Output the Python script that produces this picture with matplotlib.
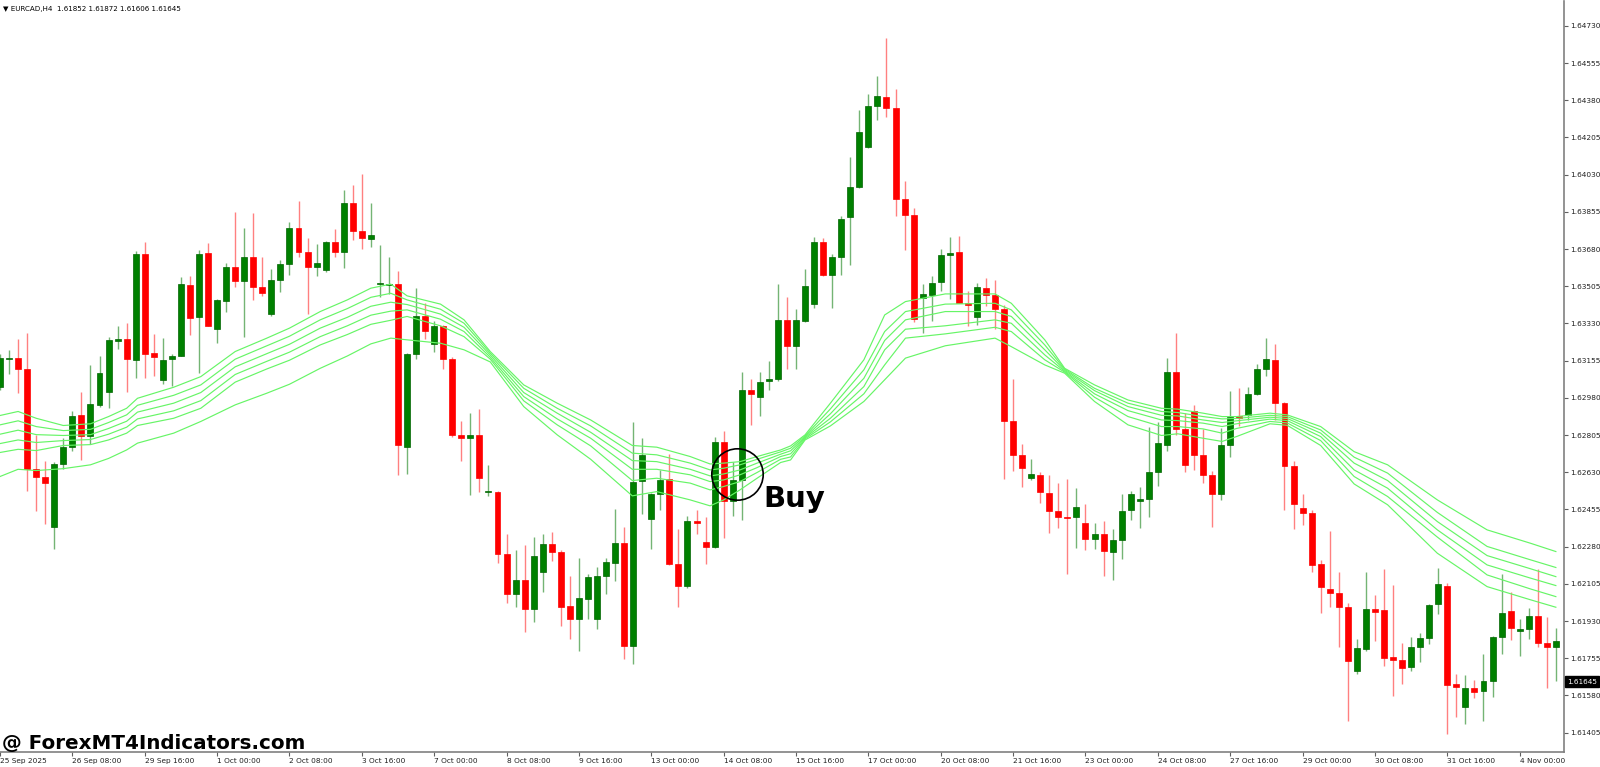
import numpy as np
import matplotlib
matplotlib.use("Agg")
import matplotlib.pyplot as plt
import matplotlib.transforms as mtransforms

header = "\u25bc EURCAD,H4  1.61852 1.61872 1.61606 1.61645"
watermark = "@ ForexMT4Indicators.com"
last_price = 1.61645

# H4 candles, 25 Sep 2025 00:00 .. 4 Nov 2025
opens = [
    1.63031, 1.63161, 1.63168, 1.63118, 1.62647, 1.62608, 1.62372, 1.62668, 1.62750, 1.62900,
    1.62800, 1.62946, 1.63008, 1.63246, 1.63257, 1.63159, 1.63657, 1.63191, 1.63065, 1.63161,
    1.63179, 1.63512, 1.63359, 1.63661, 1.63305, 1.63434, 1.63597, 1.63531, 1.63645, 1.63503,
    1.63375, 1.63533, 1.63611, 1.63780, 1.63668, 1.63597, 1.63581, 1.63714, 1.63664, 1.63895,
    1.63764, 1.63728, 1.63517, 1.63510, 1.63515, 1.62750, 1.63186, 1.63364, 1.63232, 1.63317,
    1.63161, 1.62805, 1.62791, 1.62807, 1.62535, 1.62539, 1.62244, 1.62058, 1.62124, 1.61985,
    1.62159, 1.62292, 1.62255, 1.62001, 1.61941, 1.62035, 1.61941, 1.62143, 1.62205, 1.62297,
    1.61815, 1.62588, 1.62411, 1.62528, 1.62599, 1.62200, 1.62097, 1.62402, 1.62303, 1.62278,
    1.62773, 1.62494, 1.62595, 1.63015, 1.62985, 1.63058, 1.63067, 1.63347, 1.63225, 1.63343,
    1.63421, 1.63714, 1.63558, 1.63645, 1.63829, 1.63973, 1.64161, 1.64352, 1.64395, 1.64345,
    1.63916, 1.63840, 1.63448, 1.63466, 1.63524, 1.63654, 1.63666, 1.63425, 1.63359, 1.63498,
    1.63462, 1.63398, 1.62869, 1.62711, 1.62604, 1.62617, 1.62532, 1.62448, 1.62420, 1.62418,
    1.62393, 1.62315, 1.62338, 1.62255, 1.62310, 1.62452, 1.62496, 1.62503, 1.62629, 1.62757,
    1.63102, 1.62833, 1.62920, 1.62711, 1.62615, 1.62526, 1.62759, 1.62893, 1.62900, 1.62998,
    1.63118, 1.63159, 1.62957, 1.62658, 1.62464, 1.62436, 1.62200, 1.62083, 1.62062, 1.61998,
    1.61695, 1.61799, 1.61985, 1.61982, 1.61759, 1.61747, 1.61712, 1.61810, 1.61849, 1.62010,
    1.62096, 1.61634, 1.61527, 1.61614, 1.61603, 1.61646, 1.61857, 1.61976, 1.61885, 1.61893,
    1.61954, 1.61825, 1.61806,
]
highs = [
    1.63186, 1.63205, 1.63255, 1.63287, 1.62807, 1.62681, 1.62677, 1.62791, 1.62916, 1.63008,
    1.63134, 1.63179, 1.63264, 1.63317, 1.63333, 1.63673, 1.63712, 1.63280, 1.63260, 1.63186,
    1.63549, 1.63554, 1.63675, 1.63709, 1.63444, 1.63613, 1.63856, 1.63778, 1.63851, 1.63645,
    1.63588, 1.63629, 1.63805, 1.63904, 1.63730, 1.63702, 1.63716, 1.63773, 1.63959, 1.63982,
    1.64035, 1.63897, 1.63700, 1.63641, 1.63577, 1.63191, 1.63496, 1.63425, 1.63343, 1.63324,
    1.63170, 1.62869, 1.62911, 1.62927, 1.62663, 1.62544, 1.62338, 1.62262, 1.62287, 1.62326,
    1.62338, 1.62349, 1.62262, 1.62143, 1.62228, 1.62150, 1.62182, 1.62228, 1.62457, 1.62372,
    1.62865, 1.62791, 1.62532, 1.62640, 1.62716, 1.62361, 1.62425, 1.62452, 1.62418, 1.62796,
    1.62823, 1.62677, 1.63104, 1.63070, 1.63102, 1.63154, 1.63515, 1.63453, 1.63398, 1.63584,
    1.63737, 1.63732, 1.63657, 1.63836, 1.64111, 1.64333, 1.64409, 1.64494, 1.64671, 1.64434,
    1.63998, 1.63874, 1.63515, 1.63554, 1.63680, 1.63737, 1.63741, 1.63485, 1.63519, 1.63542,
    1.63535, 1.63416, 1.63067, 1.62762, 1.62691, 1.62631, 1.62617, 1.62578, 1.62597, 1.62555,
    1.62480, 1.62393, 1.62400, 1.62361, 1.62526, 1.62544, 1.62562, 1.62842, 1.62865, 1.63168,
    1.63285, 1.62907, 1.62948, 1.62833, 1.62635, 1.62837, 1.63012, 1.63026, 1.63031, 1.63141,
    1.63262, 1.63234, 1.62961, 1.62681, 1.62526, 1.62452, 1.62216, 1.62354, 1.62161, 1.62017,
    1.61845, 1.62159, 1.62051, 1.62173, 1.62100, 1.61825, 1.61853, 1.61872, 1.62010, 1.62181,
    1.62107, 1.61681, 1.61675, 1.61653, 1.61773, 1.61861, 1.62151, 1.62068, 1.61940, 1.61993,
    1.62173, 1.61948, 1.61896,
]
lows = [
    1.63015, 1.63090, 1.63003, 1.62544, 1.62446, 1.62388, 1.62269, 1.62647, 1.62732, 1.62686,
    1.62762, 1.62939, 1.62934, 1.63209, 1.63008, 1.63072, 1.63072, 1.63083, 1.63044, 1.63037,
    1.63177, 1.63278, 1.63095, 1.63316, 1.63239, 1.63386, 1.63501, 1.63264, 1.63439, 1.63457,
    1.63364, 1.63480, 1.63558, 1.63645, 1.63375, 1.63554, 1.63572, 1.63645, 1.63593, 1.63725,
    1.63680, 1.63691, 1.63453, 1.63469, 1.62617, 1.62624, 1.63163, 1.63255, 1.63195, 1.63118,
    1.62796, 1.62681, 1.62521, 1.62539, 1.62516, 1.62205, 1.62017, 1.61994, 1.61879, 1.61925,
    1.62067, 1.62212, 1.61909, 1.61845, 1.61787, 1.61941, 1.61891, 1.62058, 1.62120, 1.61753,
    1.61730, 1.62434, 1.62269, 1.62452, 1.62194, 1.61998, 1.62085, 1.62338, 1.62200, 1.62276,
    1.62319, 1.62425, 1.62406, 1.62853, 1.62895, 1.63015, 1.63061, 1.63118, 1.63118, 1.63336,
    1.63405, 1.63554, 1.63405, 1.63558, 1.63606, 1.63966, 1.64154, 1.64288, 1.64302, 1.63835,
    1.63677, 1.63336, 1.63287, 1.63343, 1.63485, 1.63446, 1.63425, 1.63320, 1.63324, 1.63411,
    1.63306, 1.62597, 1.62635, 1.62560, 1.62595, 1.62487, 1.62342, 1.62370, 1.62150, 1.62276,
    1.62265, 1.62269, 1.62143, 1.62124, 1.62223, 1.62406, 1.62368, 1.62418, 1.62567, 1.62732,
    1.62807, 1.62631, 1.62640, 1.62578, 1.62372, 1.62498, 1.62704, 1.62846, 1.62877, 1.62992,
    1.63083, 1.62877, 1.62452, 1.62361, 1.62384, 1.62159, 1.61966, 1.61994, 1.61806, 1.61462,
    1.61679, 1.61787, 1.61838, 1.61720, 1.61577, 1.61634, 1.61697, 1.61739, 1.61821, 1.61963,
    1.61397, 1.61480, 1.61444, 1.61566, 1.61460, 1.61574, 1.61773, 1.61841, 1.61766, 1.61846,
    1.61806, 1.61614, 1.61650,
]
closes = [
    1.63168, 1.63166, 1.63118, 1.62647, 1.62606, 1.62578, 1.62670, 1.62750, 1.62895, 1.62800,
    1.62950, 1.63095, 1.63250, 1.63257, 1.63161, 1.63657, 1.63186, 1.63170, 1.63156, 1.63179,
    1.63515, 1.63357, 1.63657, 1.63320, 1.63439, 1.63597, 1.63528, 1.63643, 1.63501, 1.63471,
    1.63535, 1.63611, 1.63780, 1.63668, 1.63597, 1.63613, 1.63712, 1.63668, 1.63895, 1.63764,
    1.63730, 1.63748, 1.63519, 1.63515, 1.62757, 1.63186, 1.63364, 1.63294, 1.63320, 1.63161,
    1.62803, 1.62789, 1.62807, 1.62601, 1.62542, 1.62246, 1.62058, 1.62124, 1.61985, 1.62235,
    1.62292, 1.62255, 1.61998, 1.61941, 1.62039, 1.62136, 1.62143, 1.62207, 1.62297, 1.61815,
    1.62583, 1.62709, 1.62528, 1.62595, 1.62200, 1.62097, 1.62402, 1.62391, 1.62278, 1.62773,
    1.62494, 1.62595, 1.63019, 1.62998, 1.63056, 1.63070, 1.63347, 1.63225, 1.63347, 1.63508,
    1.63714, 1.63558, 1.63645, 1.63822, 1.63973, 1.64232, 1.64352, 1.64398, 1.64345, 1.63916,
    1.63840, 1.63352, 1.63469, 1.63521, 1.63654, 1.63661, 1.63428, 1.63416, 1.63501, 1.63466,
    1.63398, 1.62869, 1.62711, 1.62651, 1.62620, 1.62537, 1.62448, 1.62418, 1.62416, 1.62468,
    1.62315, 1.62338, 1.62258, 1.62310, 1.62448, 1.62530, 1.62503, 1.62629, 1.62766, 1.63102,
    1.62833, 1.62665, 1.62711, 1.62617, 1.62526, 1.62759, 1.62888, 1.62886, 1.62996, 1.63118,
    1.63163, 1.62957, 1.62658, 1.62482, 1.62438, 1.62196, 1.62088, 1.62062, 1.61998, 1.61741,
    1.61803, 1.61989, 1.61973, 1.61755, 1.61747, 1.61708, 1.61810, 1.61850, 1.62004, 1.62104,
    1.61628, 1.61621, 1.61614, 1.61598, 1.61646, 1.61857, 1.61969, 1.61899, 1.61893, 1.61955,
    1.61825, 1.61806, 1.61835,
]

date_labels = ["25 Sep 2025", "26 Sep 08:00", "29 Sep 16:00", "1 Oct 00:00", "2 Oct 08:00",
               "3 Oct 16:00", "7 Oct 00:00", "8 Oct 08:00", "9 Oct 16:00", "13 Oct 00:00",
               "14 Oct 08:00", "15 Oct 16:00", "17 Oct 00:00", "20 Oct 08:00", "21 Oct 16:00",
               "23 Oct 00:00", "24 Oct 08:00", "27 Oct 16:00", "29 Oct 00:00", "30 Oct 08:00",
               "31 Oct 16:00", "4 Nov 00:00"]
bars_per_label = 8

price_ticks = [1.64730, 1.64555, 1.64380, 1.64205, 1.64030, 1.63855, 1.63680, 1.63505,
               1.63330, 1.63155, 1.62980, 1.62805, 1.62630, 1.62455, 1.62280, 1.62105,
               1.61930, 1.61755, 1.61580, 1.61405]

# moving average ribbon (top line to bottom line)
ma_x = [0, 2, 4, 7, 10, 12, 14, 15.2, 19.2, 22.2, 26, 29.5, 32, 35.4, 38.4, 41, 43.2, 45,
        48.7, 51.3, 54.2, 57.9, 61.6, 65.3, 69.9, 72.6, 76.3, 78.5, 80, 81.8, 83.7, 86.3,
        87.4, 89, 91.8, 95.5, 97.8, 100.1, 104.5, 110, 111.8, 115.5, 117.7, 121, 124.7,
        128.4, 130.2, 133, 135.1, 136.7, 140.4, 142.3, 146, 149.7, 153.4, 158.9, 164.4,
        169.2, 172]
ma1 = [1.62897, 1.62916, 1.62884, 1.62850, 1.62858, 1.62892, 1.62931, 1.62978, 1.63030, 1.63080,
       1.63198, 1.63261, 1.63308, 1.63386, 1.63441, 1.63496, 1.63515, 1.63460, 1.63421, 1.63347,
       1.63198, 1.63041, 1.62955, 1.62876, 1.62756, 1.62748, 1.62704, 1.62669, 1.62673, 1.62680,
       1.62704, 1.62735, 1.62754, 1.62806, 1.62955, 1.63159, 1.63370, 1.63433, 1.63469, 1.63469,
       1.63425, 1.63253, 1.63119, 1.63041, 1.62970, 1.62931, 1.62927, 1.62908, 1.62892, 1.62892,
       1.62908, 1.62900, 1.62845, 1.62727, 1.62665, 1.62500, 1.62359, 1.62296, 1.62257]
ma2 = [1.62853, 1.62872, 1.62845, 1.62826, 1.62832, 1.62864, 1.62900, 1.62945, 1.62992, 1.63041,
       1.63162, 1.63225, 1.63270, 1.63347, 1.63400, 1.63453, 1.63472, 1.63441, 1.63397, 1.63331,
       1.63190, 1.63025, 1.62931, 1.62848, 1.62720, 1.62712, 1.62673, 1.62641, 1.62649, 1.62665,
       1.62691, 1.62726, 1.62743, 1.62801, 1.62928, 1.63112, 1.63292, 1.63386, 1.63421, 1.63425,
       1.63394, 1.63229, 1.63115, 1.63025, 1.62955, 1.62916, 1.62911, 1.62892, 1.62881, 1.62883,
       1.62898, 1.62892, 1.62829, 1.62701, 1.62626, 1.62441, 1.62281, 1.62218, 1.62182]
ma3 = [1.62809, 1.62828, 1.62807, 1.62803, 1.62807, 1.62836, 1.62870, 1.62913, 1.62955, 1.63005,
       1.63126, 1.63188, 1.63232, 1.63308, 1.63359, 1.63411, 1.63430, 1.63419, 1.63374, 1.63312,
       1.63181, 1.63005, 1.62908, 1.62818, 1.62685, 1.62680, 1.62644, 1.62613, 1.62622, 1.62641,
       1.62673, 1.62715, 1.62731, 1.62796, 1.62905, 1.63072, 1.63250, 1.63347, 1.63386, 1.63386,
       1.63363, 1.63206, 1.63110, 1.63014, 1.62939, 1.62898, 1.62895, 1.62876, 1.62864, 1.62872,
       1.62889, 1.62883, 1.62814, 1.62673, 1.62591, 1.62398, 1.62238, 1.62176, 1.62139]
ma4 = [1.62765, 1.62782, 1.62770, 1.62779, 1.62784, 1.62809, 1.62842, 1.62881, 1.62919, 1.62967,
       1.63090, 1.63152, 1.63195, 1.63268, 1.63319, 1.63369, 1.63388, 1.63394, 1.63350, 1.63292,
       1.63171, 1.62986, 1.62881, 1.62790, 1.62644, 1.62644, 1.62618, 1.62586, 1.62594, 1.62618,
       1.62652, 1.62704, 1.62717, 1.62792, 1.62884, 1.63033, 1.63206, 1.63303, 1.63319, 1.63347,
       1.63331, 1.63182, 1.63105, 1.62999, 1.62920, 1.62876, 1.62873, 1.62861, 1.62845, 1.62858,
       1.62880, 1.62873, 1.62798, 1.62641, 1.62555, 1.62359, 1.62194, 1.62132, 1.62097]
ma5 = [1.62723, 1.62738, 1.62732, 1.62756, 1.62760, 1.62782, 1.62814, 1.62850, 1.62884, 1.62931,
       1.63054, 1.63116, 1.63157, 1.63229, 1.63278, 1.63326, 1.63345, 1.63363, 1.63319, 1.63268,
       1.63162, 1.62966, 1.62853, 1.62754, 1.62591, 1.62602, 1.62579, 1.62547, 1.62563, 1.62586,
       1.62629, 1.62691, 1.62702, 1.62787, 1.62867, 1.62999, 1.63135, 1.63261, 1.63281, 1.63312,
       1.63292, 1.63159, 1.63101, 1.62983, 1.62892, 1.62845, 1.62845, 1.62834, 1.62814, 1.62836,
       1.62869, 1.62862, 1.62779, 1.62610, 1.62516, 1.62325, 1.62147, 1.62081, 1.62045]
ma6 = [1.62610, 1.62644, 1.62638, 1.62647, 1.62665, 1.62695, 1.62735, 1.62767, 1.62814, 1.62869,
       1.62947, 1.63002, 1.63044, 1.63119, 1.63177, 1.63234, 1.63261, 1.63253, 1.63237, 1.63206,
       1.63149, 1.62939, 1.62806, 1.62691, 1.62519, 1.62539, 1.62500, 1.62472, 1.62500, 1.62547,
       1.62602, 1.62676, 1.62688, 1.62782, 1.62848, 1.62963, 1.63065, 1.63167, 1.63225, 1.63261,
       1.63221, 1.63135, 1.63096, 1.62963, 1.62853, 1.62803, 1.62811, 1.62790, 1.62775, 1.62798,
       1.62858, 1.62851, 1.62756, 1.62575, 1.62477, 1.62249, 1.62092, 1.62030, 1.61995]

buy_bar = 81.5
buy_price = 1.62622

o = np.array(opens)
h = np.array(highs)
l = np.array(lows)
c = np.array(closes)
x = np.arange(len(o))
up = c >= o

fig = plt.figure(figsize=(16, 7.67), dpi=100)
ax = fig.add_axes([0, 15 / 767, 1564 / 1600, 751 / 767])

green, red = "#008000", "#ff0000"
ax.vlines(x[up], l[up], h[up], colors="#74b474", lw=1.0, zorder=1)
ax.vlines(x[~up], l[~up], h[~up], colors="#ff8080", lw=1.0, zorder=1)
body = np.maximum(np.abs(c - o), 0.00005)
ax.bar(x[up], body[up], bottom=np.minimum(o, c)[up], width=0.66,
       color=green, edgecolor="#006400", lw=0.5, zorder=2)
ax.bar(x[~up], body[~up], bottom=np.minimum(o, c)[~up], width=0.66,
       color=red, edgecolor=red, lw=0.5, zorder=2)

for ma in (ma1, ma2, ma3, ma4, ma5, ma6):
    ax.plot(ma_x, ma, color="#66f566", lw=0.85, zorder=3)

# buy signal
ax.plot([buy_bar], [buy_price], marker="o", ms=37, mfc="none", mec="black",
        mew=1.2, zorder=4)
ax.annotate("Buy", xy=(buy_bar, buy_price), xytext=(19, -24), textcoords="offset points",
            fontsize=21, fontweight="bold", ha="left", va="baseline", zorder=5)

ax.set_xlim(0.077, 172.9)
ax.set_ylim(1.61314, 1.64847)

for side in ("top", "left"):
    ax.spines[side].set_visible(False)
for side in ("right", "bottom"):
    ax.spines[side].set_color("#808080")
    ax.spines[side].set_linewidth(1.2)

ax.yaxis.tick_right()
ax.set_yticks(price_ticks)
ax.set_yticklabels([f"{p:.5f}" for p in price_ticks])
ax.set_xticks(np.arange(len(date_labels)) * bars_per_label)
ax.set_xticklabels(date_labels, ha="left")
ax.tick_params(axis="both", direction="out", length=3, width=0.8, color="#606060",
               labelsize=5.3, labelcolor="#202020", pad=1.5)

ax.text(1.002, last_price, f"{last_price:.5f}",
        transform=mtransforms.blended_transform_factory(ax.transAxes, ax.transData),
        fontsize=5.2, color="white", ha="left", va="center",
        bbox=dict(boxstyle="square,pad=0.3", fc="black", ec="black"), zorder=6)

fig.text(3 / 1600, 1 - 8.5 / 767, header, fontsize=5.1, color="black", va="center", ha="left")
fig.text(2 / 1600, 1 - 749 / 767, watermark, fontsize=14.3, fontweight="bold",
         color="black", va="baseline", ha="left")

fig.savefig("out.png", dpi=100, facecolor="white")
